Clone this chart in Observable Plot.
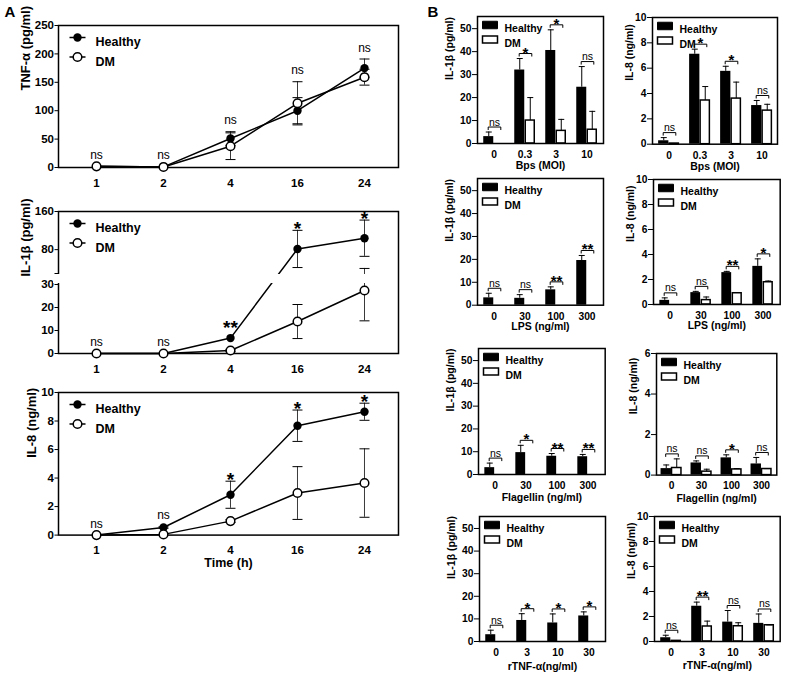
<!DOCTYPE html>
<html><head><meta charset="utf-8">
<script src="https://cdn.jsdelivr.net/npm/d3@7"></script>
<script src="https://cdn.jsdelivr.net/npm/@observablehq/plot@0.6"></script>
<style>
body{margin:0;background:#fff;}
#root{position:relative;width:785px;height:678px;overflow:hidden;font-family:"Liberation Sans",Arial,sans-serif;background:#fff;}
#root svg{max-width:none !important;overflow:visible !important;background:transparent !important;}
.lab{position:absolute;font-weight:bold;font-size:15px;line-height:15px;}
</style></head><body><div id="root"></div>
<script>
// ---------- Panel A data ----------
const times = ["1","2","4","16","24"];
const tnfTicks = [0,50,100,150,200,250];
const tnfHealthy = [2, 1, 51, 100, 175];
const tnfHealthyErr = [0, 0, 12, 23, 16];
const tnfDM = [2, 1, 37.5, 113, 159];
const tnfDMErr = [0, 0, 23.5, 38, 14];
const tnfSig = ["ns","ns","ns","ns","ns"];

const il1bTicks = [0,10,20,30,80,160];
const il1bHealthy = [0, 0, 6.7, 81.5, 104];
const il1bHealthyErr = [0, 0, 0, 39, 38];
const il1bDM = [0, 0, 1.3, 13.9, 27.4];
const il1bDMErr = [0, 0, 0.5, 7.4, 13.2];
const il1bSig = ["ns","ns","**","*","*"];

const il8Ticks = [0,2,4,6,8,10];
const il8Healthy = [0, 0.53, 2.83, 7.67, 8.65];
const il8HealthyErr = [0, 0.05, 0.95, 1.1, 0.6];
const il8DM = [0, 0.05, 0.98, 2.95, 3.65];
const il8DMErr = [0, 0, 0.1, 1.85, 2.4];
const il8Sig = ["ns","ns","*","*","*"];

// ---------- Panel B data ----------
const bpsDoses = ["0","0.3","3","10"];
const lpsDoses = ["0","30","100","300"];
const flaDoses = ["0","30","100","300"];
const rtnfDoses = ["0","3","10","30"];
const il1bBarTicks = [0,10,20,30,40,50];
const il8BarTicks = [0,2,4,6,8,10];
const il8FlaTicks = [0,2,4,6];

const bpsIL1bHealthy = [3, 32, 40.5, 24.5], bpsIL1bHealthyErr = [2, 5, 9, 9];
const bpsIL1bDM = [0, 10, 5.5, 6], bpsIL1bDMErr = [0, 10, 5, 8];
const bpsIL1bSig = ["ns","*","*","ns"];

const bpsIL8Healthy = [0.27, 7.1, 5.75, 3.05], bpsIL8HealthyErr = [0.25, 0.4, 0.4, 0.4];
const bpsIL8DM = [0.05, 3.45, 3.6, 2.65], bpsIL8DMErr = [0, 1.1, 1.3, 0.5];
const bpsIL8Sig = ["ns","*","*","ns"];

const lpsIL1bHealthy = [3.2, 3, 6.7, 19.5], lpsIL1bHealthyErr = [2, 1.6, 1.3, 2.2];
const lpsIL1bDM = [0, 0, 0, 0], lpsIL1bDMErr = [0, 0, 0, 0];
const lpsIL1bSig = ["ns","ns","**","**"];

const lpsIL8Healthy = [0.33, 0.95, 2.55, 3.05], lpsIL8HealthyErr = [0.2, 0.1, 0.1, 0.6];
const lpsIL8DM = [0, 0.35, 0.9, 1.78], lpsIL8DMErr = [0, 0.25, 0, 0.1];
const lpsIL8Sig = ["ns","ns","**","*"];

const flaIL1bHealthy = [3, 9.6, 8, 7.8], flaIL1bHealthyErr = [2, 3.2, 1.2, 1];
const flaIL1bDM = [0, 0, 0, 0], flaIL1bDMErr = [0, 0, 0, 0];
const flaIL1bSig = ["ns","*","**","**"];

const flaIL8Healthy = [0.32, 0.6, 0.85, 0.55], flaIL8HealthyErr = [0.18, 0.1, 0.15, 0.32];
const flaIL8DM = [0.35, 0.17, 0.28, 0.3], flaIL8DMErr = [0.45, 0.12, 0.04, 0.02];
const flaIL8Sig = ["ns","ns","*","ns"];

const rtnfIL1bHealthy = [3, 9.3, 8.2, 11.3], rtnfIL1bHealthyErr = [2, 3, 4, 1.8];
const rtnfIL1bDM = [0, 0, 0, 0], rtnfIL1bDMErr = [0, 0, 0, 0];
const rtnfIL1bSig = ["ns","*","*","*"];

const rtnfIL8Healthy = [0.3, 2.82, 1.55, 1.45], rtnfIL8HealthyErr = [0.2, 0.33, 0.93, 0.75];
const rtnfIL8DM = [0.05, 1.2, 1.22, 1.3], rtnfIL8DMErr = [0, 0.43, 0.28, 0.03];
const rtnfIL8Sig = ["ns","**","ns","ns"];

// ---------- helpers ----------
const FONT = '"Liberation Sans", Arial, Helvetica, sans-serif';
const root = document.getElementById("root");
function mount(svg, left, top, w, h) {
  const d = document.createElement("div");
  d.style.position = "absolute";
  d.style.left = left + "px"; d.style.top = top + "px";
  d.style.width = w + "px"; d.style.height = h + "px";
  d.appendChild(svg); root.appendChild(d);
}
function label(txt, left, top) {
  const d = document.createElement("div");
  d.className = "lab"; d.textContent = txt;
  d.style.left = left + "px"; d.style.top = top + "px";
  root.appendChild(d);
}
const hline = hw => ({draw(c){ c.moveTo(-hw,0); c.lineTo(hw,0); }});
const bracketSym = (hw,h) => ({draw(c){ c.moveTo(-hw,h); c.lineTo(-hw,0); c.lineTo(hw,0); c.lineTo(hw,h); }});
const boxSym = (w,h) => ({draw(c){ c.moveTo(-w/2,-h/2); c.lineTo(w/2,-h/2); c.lineTo(w/2,h/2); c.lineTo(-w/2,h/2); c.closePath(); }});
const isNs = d => d.sig === "ns";
const isStar = d => d.sig !== "ns" && d.sig !== "";
const ident = v => v;

function timePlot(o) {
  const ML = 58, MT = 25, MR = 10, MB = 45;
  const [l,t,r,b] = o.frame;
  const width = r-l+ML+MR, height = b-t+MT+MB;
  const f = o.yf || ident;
  const H = times.map((time,i)=>({time, value:o.h[i], err:o.he[i]}));
  const D = times.map((time,i)=>({time, value:o.d[i], err:o.de[i]}));
  const S = times.map((time,i)=>{
    const hTop = o.h[i]+o.he[i], dTop = o.d[i]+o.de[i], top = Math.max(hTop, dTop);
    const bare = (top === hTop && o.he[i] === 0) || (top === dTop && o.de[i] === 0);
    return {time, sig:o.sig[i], top, bare};
  });
  const E = [...H, ...D].filter(d => d.err > 0);
  const y = {domain:o.yDomain, ticks:o.yTicks, tickSize:3.5, tickPadding:1, label:null, tickFormat:o.tickFormat || (d => String(d))};
  const marks = [
    Plot.frame({stroke:"black", strokeWidth:1.5}),
    Plot.ruleX(E, {x:"time", y1:d=>f(d.value-d.err), y2:d=>f(d.value+d.err), stroke:"#3a3a3a", strokeWidth:1}),
    Plot.dot(E, {x:"time", y:d=>f(d.value+d.err), symbol:hline(5), stroke:"black", strokeWidth:1, fill:"none"}),
    Plot.dot(E, {x:"time", y:d=>f(d.value-d.err), symbol:hline(5), stroke:"black", strokeWidth:1, fill:"none"}),
    Plot.line(H, {x:"time", y:d=>f(d.value), stroke:"black", strokeWidth:1.5}),
    Plot.line(D, {x:"time", y:d=>f(d.value), stroke:"black", strokeWidth:1.5}),
    Plot.dot(H, {x:"time", y:d=>f(d.value), r:4.2, fill:"black", stroke:"none"}),
    Plot.dot(D, {x:"time", y:d=>f(d.value), r:4.3, fill:"white", stroke:"black", strokeWidth:1.5})
  ];
  if (o.breakAt) marks.push(Plot.rect([{a:o.breakAt[0], b:o.breakAt[1]}], {y1:d=>f(d.a), y2:d=>f(d.b), fill:"white", insetLeft:-5, insetRight:1.2, insetTop:1, insetBottom:1}));
  marks.push(
    Plot.dot([0], {frameAnchor:"top-left", dx:19, dy:12, symbol:hline(8), stroke:"black", strokeWidth:1.5, fill:"none"}),
    Plot.dot([0], {frameAnchor:"top-left", dx:19, dy:12, r:4.2, fill:"black", stroke:"none"}),
    Plot.dot([0], {frameAnchor:"top-left", dx:19, dy:31.5, symbol:hline(8), stroke:"black", strokeWidth:1.5, fill:"none"}),
    Plot.dot([0], {frameAnchor:"top-left", dx:19, dy:31.5, r:4.3, fill:"white", stroke:"black", strokeWidth:1.5}),
    Plot.text(["Healthy"], {frameAnchor:"top-left", dx:37, dy:12, text:d=>d, textAnchor:"start", fontSize:12.5, fontWeight:"bold"}),
    Plot.text(["DM"], {frameAnchor:"top-left", dx:37, dy:31.5, text:d=>d, textAnchor:"start", fontSize:12.5, fontWeight:"bold"}),
    Plot.text(S.filter(isNs), {x:"time", y:d=>f(d.top), text:"sig", lineAnchor:"bottom", dy:-7.5, fontSize:12, fontWeight:"normal", fill:"black"}),
    Plot.text(S.filter(d => isStar(d) && !d.bare), {x:"time", y:d=>f(d.top), text:"sig", lineAnchor:"bottom", dy:4.5, fontSize:19, fontWeight:"bold", fill:"black"}),
    Plot.text(S.filter(d => isStar(d) && d.bare), {x:"time", y:d=>f(d.top), text:"sig", lineAnchor:"bottom", dy:-4, fontSize:19, fontWeight:"bold", fill:"black"}),
    Plot.text([o.ylabel], {frameAnchor:"left", dx:o.ylDx, dy:-6, rotate:-90, text:d=>d, fontSize:13, fontWeight:"bold"})
  );
  if (o.xlabel) marks.push(Plot.text([o.xlabel], {frameAnchor:"bottom", dy:32.4, text:d=>d, fontSize:12.5, fontWeight:"bold"}));
  const svg = Plot.plot({
    width, height, marginLeft:ML, marginTop:MT, marginRight:MR, marginBottom:MB,
    x:{type:"point", domain:times, padding:0.489, insetLeft:4, tickSize:0, tickPadding:11, label:null},
    y, marks,
    style:{fontFamily:FONT, fontSize:"11.5px", fontWeight:"bold", color:"black", background:"none", overflow:"visible", maxWidth:"none"}
  });
  mount(svg, l-ML, t-MT, width, height);
}

function barPlot(o) {
  const ML = 50, MT = 20, MR = 10, MB = 45;
  const [l,t,r,b] = o.frame;
  const width = r-l+ML+MR, height = b-t+MT+MB;
  const bw = (r-l)/o.doses.length;
  const half = 5.25;
  const H = o.doses.map((dose,i)=>({dose, value:o.h[i], err:o.he[i]}));
  const D = o.doses.map((dose,i)=>({dose, value:o.d[i], err:o.de[i]}));
  const G = o.doses.map((dose,i)=>({dose, sig:o.sig[i], top:Math.max(o.h[i]+o.he[i], o.d[i]+o.de[i])}));
  const HE = H.filter(d=>d.err>0), DE = D.filter(d=>d.err>0);
  const marks = [
    Plot.barY(H, {x:"dose", y:"value", fill:"black", insetLeft:bw/2-2*half, insetRight:bw/2}),
    Plot.barY(D, {x:"dose", y:"value", fill:"white", stroke:"black", strokeWidth:1.5, insetLeft:bw/2+0.5, insetRight:bw/2-2*half+0.5}),
    Plot.ruleX(HE, {x:"dose", y1:"value", y2:d=>d.value+d.err, dx:-half, stroke:"black", strokeWidth:1}),
    Plot.dot(HE, {x:"dose", y:d=>d.value+d.err, dx:-half, symbol:hline(3), stroke:"black", strokeWidth:1, fill:"none"}),
    Plot.ruleX(DE, {x:"dose", y1:"value", y2:d=>d.value+d.err, dx:half, stroke:"black", strokeWidth:1}),
    Plot.dot(DE, {x:"dose", y:d=>d.value+d.err, dx:half, symbol:hline(3), stroke:"black", strokeWidth:1, fill:"none"}),
    Plot.frame({stroke:"black", strokeWidth:1.5}),
    Plot.dot(G, {x:"dose", y:"top", dx:0.5, dy:-5, symbol:bracketSym(6.3,3), stroke:"black", strokeWidth:1, fill:"none"}),
    Plot.text(G.filter(isNs), {x:"dose", y:"top", dx:0.5, dy:-6.5, text:"sig", lineAnchor:"bottom", fontSize:10.5, fontWeight:"normal", fill:"black"}),
    Plot.text(G.filter(isStar), {x:"dose", y:"top", dx:0.5, dy:-1, text:"sig", lineAnchor:"bottom", fontSize:15, fontWeight:"bold", fill:"black"}),
    Plot.dot([0], {frameAnchor:"top-left", dx:12.5, dy:8.5, symbol:boxSym(15,7.5), fill:"black", stroke:"black", strokeWidth:1}),
    Plot.dot([0], {frameAnchor:"top-left", dx:12.5, dy:23, symbol:boxSym(15,7), fill:"white", stroke:"black", strokeWidth:1.5}),
    Plot.text(["Healthy"], {frameAnchor:"top-left", dx:27, dy:8.5, text:d=>d, textAnchor:"start", fontSize:10.5, fontWeight:"bold"}),
    Plot.text(["DM"], {frameAnchor:"top-left", dx:27, dy:23, text:d=>d, textAnchor:"start", fontSize:10.5, fontWeight:"bold"}),
    Plot.text([o.ylabel], {frameAnchor:"left", dx:o.ylDx, rotate:-90, text:d=>d, fontSize:10.5, fontWeight:"bold"}),
    Plot.text([o.xlabel], {frameAnchor:"bottom", dy:o.xlDy, text:d=>d, fontSize:10.5, fontWeight:"bold"})
  ];
  const svg = Plot.plot({
    width, height, marginLeft:ML, marginTop:MT, marginRight:MR, marginBottom:MB,
    x:{type:"band", domain:o.doses, padding:0, tickSize:0, tickPadding:7, label:null},
    y:{domain:o.yDomain, ticks:o.yTicks, tickSize:5, tickPadding:1, label:null, tickFormat:d => String(d)},
    marks,
    style:{fontFamily:FONT, fontSize:"10.3px", fontWeight:"bold", color:"black", background:"none", overflow:"visible", maxWidth:"none"}
  });
  mount(svg, l-ML, t-MT, width, height);
}

// ---------- Panel A ----------
timePlot({frame:[58,25,398,167], yDomain:[0,250], yTicks:tnfTicks,
  h:tnfHealthy, he:tnfHealthyErr, d:tnfDM, de:tnfDMErr, sig:tnfSig, ylabel:"TNF-α (pg/ml)", ylDx:-33});

// broken y axis: 0–30 on the lower part, 30–160 compressed on the upper part
const BRK = 30, BRK_HI = 30.000001;
const LOW_K = 2.3, GAP = 11, HIGH_K = 62 / 130;
const brk = v => v <= BRK ? v * LOW_K : BRK * LOW_K + GAP + (v - BRK) * HIGH_K;
const il1bTickVals = [...il1bTicks.filter(v=>v<=BRK), BRK_HI, ...il1bTicks.filter(v=>v>BRK)];
timePlot({frame:[58,211,398,353], yf:brk, yDomain:[0, brk(160)],
  yTicks:il1bTickVals.map(brk),
  tickFormat:u => { const v = il1bTickVals.find(w => Math.abs(brk(w) - u) < 1e-3); return v === BRK_HI || v === undefined ? "" : String(v); },
  breakAt:[BRK,BRK_HI],
  h:il1bHealthy, he:il1bHealthyErr, d:il1bDM, de:il1bDMErr, sig:il1bSig, ylabel:"IL-1β (pg/ml)", ylDx:-33});
timePlot({frame:[58,391.7,398,534.3], yDomain:[0,10], yTicks:il8Ticks,
  h:il8Healthy, he:il8HealthyErr, d:il8DM, de:il8DMErr, sig:il8Sig, ylabel:"IL-8 (ng/ml)", ylDx:-26.5, xlabel:"Time (h)"});

// ---------- Panel B ----------
const Y1 = [0,55.3];
barPlot({frame:[477.3,15.7,603.3,142.7], doses:bpsDoses, yDomain:Y1, yTicks:il1bBarTicks,
  h:bpsIL1bHealthy, he:bpsIL1bHealthyErr, d:bpsIL1bDM, de:bpsIL1bDMErr, sig:bpsIL1bSig,
  ylabel:"IL-1β (pg/ml)", ylDx:-28, xlabel:"Bps (MOI)", xlDy:25.5});
barPlot({frame:[651.7,17.3,776.7,144], doses:bpsDoses, yDomain:[0,10], yTicks:il8BarTicks,
  h:bpsIL8Healthy, he:bpsIL8HealthyErr, d:bpsIL8DM, de:bpsIL8DMErr, sig:bpsIL8Sig,
  ylabel:"IL-8 (ng/ml)", ylDx:-22.5, xlabel:"Bps (MOI)", xlDy:25.5});
barPlot({frame:[477.3,178.3,603.3,305], doses:lpsDoses, yDomain:Y1, yTicks:il1bBarTicks,
  h:lpsIL1bHealthy, he:lpsIL1bHealthyErr, d:lpsIL1bDM, de:lpsIL1bDMErr, sig:lpsIL1bSig,
  ylabel:"IL-1β (pg/ml)", ylDx:-28, xlabel:"LPS (ng/ml)", xlDy:25});
barPlot({frame:[653.3,179.3,780,304.3], doses:lpsDoses, yDomain:[0,10], yTicks:il8BarTicks,
  h:lpsIL8Healthy, he:lpsIL8HealthyErr, d:lpsIL8DM, de:lpsIL8DMErr, sig:lpsIL8Sig,
  ylabel:"IL-8 (ng/ml)", ylDx:-22.5, xlabel:"LPS (ng/ml)", xlDy:25});
barPlot({frame:[478.3,348.3,605,474.3], doses:flaDoses, yDomain:Y1, yTicks:il1bBarTicks,
  h:flaIL1bHealthy, he:flaIL1bHealthyErr, d:flaIL1bDM, de:flaIL1bDMErr, sig:flaIL1bSig,
  ylabel:"IL-1β (pg/ml)", ylDx:-28, xlabel:"Flagellin (ng/ml)", xlDy:27});
barPlot({frame:[655.7,352.7,776,474.3], doses:flaDoses, yDomain:[0,6], yTicks:il8FlaTicks,
  h:flaIL8Healthy, he:flaIL8HealthyErr, d:flaIL8DM, de:flaIL8DMErr, sig:flaIL8Sig,
  ylabel:"IL-8 (ng/ml)", ylDx:-22.5, xlabel:"Flagellin (ng/ml)", xlDy:27});
barPlot({frame:[479,516,605,641], doses:rtnfDoses, yDomain:Y1, yTicks:il1bBarTicks,
  h:rtnfIL1bHealthy, he:rtnfIL1bHealthyErr, d:rtnfIL1bDM, de:rtnfIL1bDMErr, sig:rtnfIL1bSig,
  ylabel:"IL-1β (pg/ml)", ylDx:-28, xlabel:"rTNF-α(ng/ml)", xlDy:28});
barPlot({frame:[654.3,516,780,641], doses:rtnfDoses, yDomain:[0,10], yTicks:il8BarTicks,
  h:rtnfIL8Healthy, he:rtnfIL8HealthyErr, d:rtnfIL8DM, de:rtnfIL8DMErr, sig:rtnfIL8Sig,
  ylabel:"IL-8 (ng/ml)", ylDx:-22.5, xlabel:"rTNF-α(ng/ml)", xlDy:28});

label("A", 4.6, 4.3);
label("B", 427.6, 4.3);
</script></body></html>
